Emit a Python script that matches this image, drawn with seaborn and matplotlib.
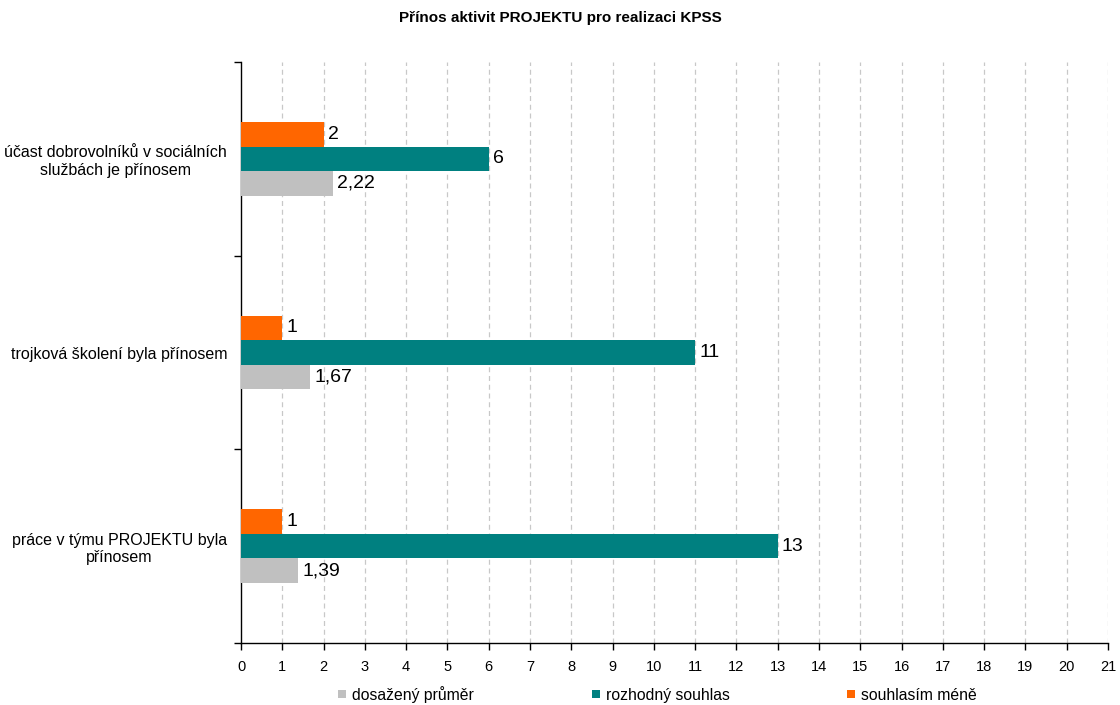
import matplotlib
matplotlib.use("Agg")
import matplotlib.pyplot as plt
from matplotlib.patches import Rectangle
import seaborn as sns
import pandas as pd

categories = [
    "účast dobrovolníků v sociálních\nslužbách je přínosem",
    "trojková školení byla přínosem",
    "práce v týmu PROJEKTU byla\npřínosem",
]
series_names = ["dosažený průměr", "rozhodný souhlas", "souhlasím méně"]
prumer = [2.22, 1.67, 1.39]
rozhodny = [6, 11, 13]
mene = [2, 1, 1]
colors = {"dosažený průměr": "#C0C0C0", "rozhodný souhlas": "#008080", "souhlasím méně": "#FF6600"}
x_ticks = list(range(0, 22))
title = "Přínos aktivit PROJEKTU pro realizaci KPSS"

rows = []
for name, vals in zip(series_names, [prumer, rozhodny, mene]):
    for cat, v in zip(categories, vals):
        rows.append({"kategorie": cat, "řada": name, "hodnota": v})
df = pd.DataFrame(rows)

sns.set_style("white")
plt.rcParams["font.family"] = ["Liberation Sans", "DejaVu Sans"]
plt.rcParams["text.color"] = "black"
plt.rcParams["xtick.color"] = "black"
plt.rcParams["ytick.color"] = "black"

W, H = 1120, 705
fig = plt.figure(figsize=(W / 100, H / 100), dpi=100)
ax = fig.add_axes([241 / W, 1 - 643 / H, (1108 - 241) / W, (643 - 62) / H])

draw_order = ["souhlasím méně", "rozhodný souhlas", "dosažený průměr"]
sns.barplot(data=df, y="kategorie", x="hodnota", hue="řada", hue_order=draw_order,
            order=categories, palette=colors, orient="h", width=0.38,
            errorbar=None, legend=False, ax=ax, zorder=3, saturation=1,
            edgecolor="none", linewidth=0)

for cont in ax.containers:
    labels = [f"{b.get_width():g}".replace(".", ",") for b in cont]
    ax.bar_label(cont, labels=labels, padding=3, fontsize=14, color="black")

ax.set_xlim(0, 21)
ax.set_ylim(2.5, -0.5)
ax.set_xticks(x_ticks)
ax.set_xticklabels([str(t) for t in x_ticks], fontsize=10.5)
ax.tick_params(axis="x", bottom=True, direction="out", length=5, width=1, color="black", pad=7)
ax.set_yticks([-0.5, 0.5, 1.5, 2.5], minor=True)
ax.tick_params(axis="y", which="minor", left=True, direction="out", length=5, width=1, color="black")
ax.tick_params(axis="y", which="major", left=False, length=0, pad=10, labelsize=11.5)
ax.set_xlabel("")
ax.set_ylabel("")
for lbl in ax.get_yticklabels():
    lbl.set_horizontalalignment("right")
    lbl.set_multialignment("center")

ax.grid(False)
for t in x_ticks[1:]:
    ax.axvline(t, color="#C8C8C8", linestyle=(0, (4, 3)), linewidth=0.9, zorder=1)

for s in ["top", "right"]:
    ax.spines[s].set_visible(False)
for s in ["left", "bottom"]:
    ax.spines[s].set_color("black")
    ax.spines[s].set_linewidth(1)

fig.text(0.5, 1 - 18 / H, title, ha="center", va="center", fontsize=11, fontweight="bold")

# legend row below the axis: colour key square followed by the series name
key_x = [338, 592, 847]
for name, kx in zip(series_names, key_x):
    fig.patches.append(Rectangle((kx / W, 1 - 698 / H), 8 / W, 8 / H, transform=fig.transFigure,
                                 facecolor=colors[name], edgecolor="none", figure=fig))
    fig.text((kx + 14) / W, 1 - 700 / H, name, ha="left", va="baseline", fontsize=11.3)

fig.savefig("out.png", dpi=100)
